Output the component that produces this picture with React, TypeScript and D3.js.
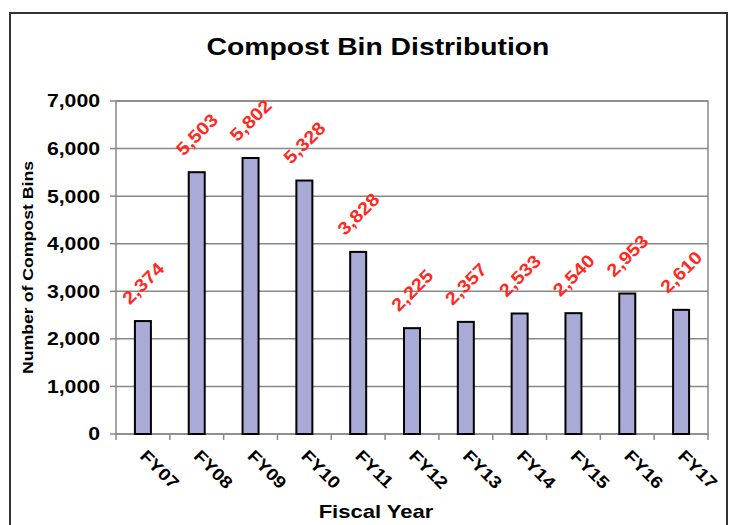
import { scaleBand, scaleLinear, format } from 'd3'

const years = ['FY07', 'FY08', 'FY09', 'FY10', 'FY11', 'FY12', 'FY13', 'FY14', 'FY15', 'FY16', 'FY17']
const bins = [2374, 5503, 5802, 5328, 3828, 2225, 2357, 2533, 2540, 2953, 2610]
const yTicks = [0, 1000, 2000, 3000, 4000, 5000, 6000, 7000]

const width = 735
const height = 525
const plot = { left: 116, right: 708, top: 101, bottom: 434 }
const font = 'Arial, "Liberation Sans", Helvetica, sans-serif'
const comma = format(',')
// the reference text is a bit wider than plain Arial, stretch it horizontally
const stretch = 1.18

const App = () => {
  const x = scaleBand<string>().domain(years).range([plot.left, plot.right])
  const y = scaleLinear().domain([0, 7000]).range([plot.bottom, plot.top])
  const barW = 16
  const bw = x.bandwidth()

  return (
    <svg
      width={width}
      height={height}
      style={{ position: 'absolute', left: 0, top: 0, background: '#fff' }}
      fontFamily={font}
      fontWeight="bold"
    >
      <rect x={10} y={13} width={717} height={530} fill="#fff" stroke="#333" strokeWidth={2} />

      <text transform={`translate(378, 55) scale(${stretch}, 1)`} textAnchor="middle" fontSize={24} fill="#000">
        Compost Bin Distribution
      </text>

      {/* plot area + grid */}
      <rect
        x={plot.left}
        y={plot.top}
        width={plot.right - plot.left}
        height={plot.bottom - plot.top}
        fill="#fff"
        stroke="#888"
        strokeWidth={1.5}
      />
      {yTicks.map((t) => (
        <g key={t}>
          <line x1={plot.left} x2={plot.right} y1={y(t)} y2={y(t)} stroke="#888" strokeWidth={1.5} />
          <line x1={plot.left - 6} x2={plot.left} y1={y(t)} y2={y(t)} stroke="#888" strokeWidth={1.5} />
          <text
            transform={`translate(100, ${y(t)}) scale(${stretch}, 1)`}
            dy="0.36em"
            textAnchor="end"
            fontSize={18}
            fill="#000"
          >
            {comma(t)}
          </text>
        </g>
      ))}
      {years.map((yr) => (
        <line
          key={yr}
          x1={x(yr) ?? 0}
          x2={x(yr) ?? 0}
          y1={plot.bottom}
          y2={plot.bottom + 6}
          stroke="#888"
          strokeWidth={1.5}
        />
      ))}
      <line x1={plot.right} x2={plot.right} y1={plot.bottom} y2={plot.bottom + 6} stroke="#888" strokeWidth={1.5} />

      {/* bars */}
      {years.map((yr, i) => {
        const cx = (x(yr) ?? 0) + bw / 2
        const top = y(bins[i])
        return (
          <g key={yr}>
            <rect
              x={cx - barW / 2}
              y={top}
              width={barW}
              height={plot.bottom - top}
              fill="#aaaad6"
              stroke="#000"
              strokeWidth={2}
            />
            <text
              transform={`translate(${cx}, ${top - 38}) rotate(-45) scale(1.12, 1)`}
              textAnchor="middle"
              dy="0.36em"
              fontSize={18}
              fill="#ff2a1f"
            >
              {comma(bins[i])}
            </text>
            <text
              transform={`translate(${cx - 4}, ${plot.bottom + 23}) rotate(45) scale(1.15, 1)`}
              fontSize={17}
              fill="#000"
            >
              {yr}
            </text>
          </g>
        )
      })}

      <text
        transform={`translate(33, ${(plot.top + plot.bottom) / 2}) rotate(-90) scale(1.18, 1)`}
        textAnchor="middle"
        fontSize={15}
        fill="#000"
      >
        Number of Compost Bins
      </text>
      <text transform={`translate(376, 518) scale(1.16, 1)`} textAnchor="middle" fontSize={19} fill="#000">
        Fiscal Year
      </text>
    </svg>
  )
}

export default App
